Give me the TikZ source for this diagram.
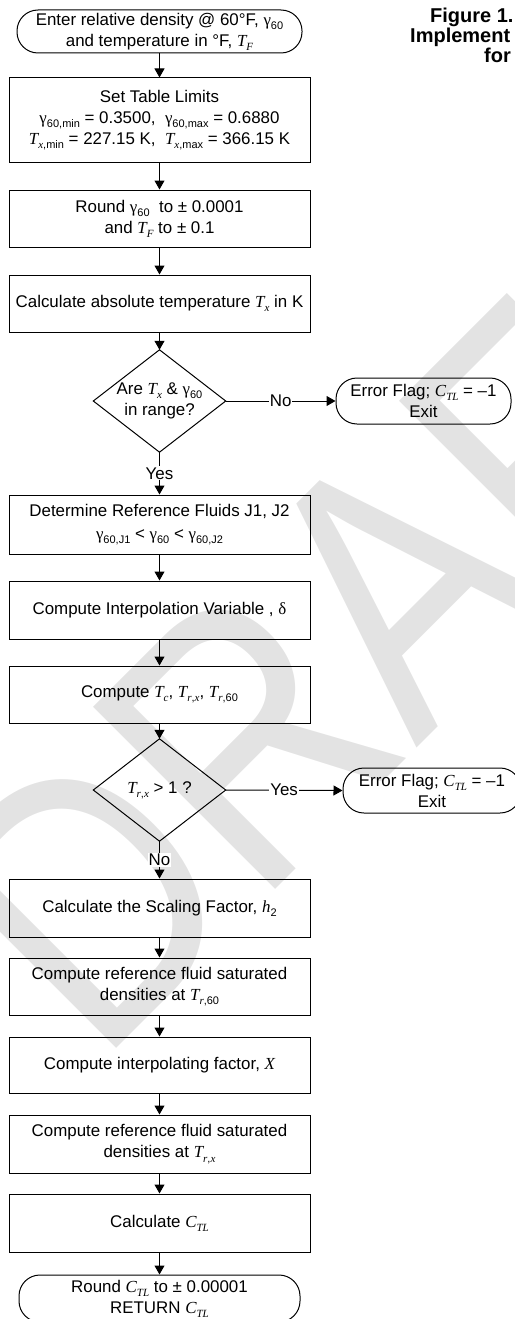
\documentclass[tikz,border=0pt]{standalone}
\usepackage{fontspec}
\setmainfont{Liberation Sans}
\newfontfamily\tms{Liberation Serif}
\usetikzlibrary{arrows.meta}

% italic serif symbol, lowered small index, Greek gamma
\newcommand\mi[1]{{\tms\itshape #1}}
\newcommand\lo[1]{\raisebox{-0.25em}{\fontsize{11}{11}\selectfont #1}}
\newcommand\gm{{\tms γ}}
\newcommand\ctl{\mi{C}\lo{\mi{TL}}}

\tikzset{
  every node/.style={font=\fontsize{16.9}{21}\selectfont},
  stepbox/.style={draw=black, line width=1pt, minimum width=301pt, align=center, inner sep=0pt},
  term/.style={draw=black, line width=1pt, rounded corners=21pt, align=center, inner sep=0pt},
  decide/.style={minimum width=132pt, minimum height=102pt, align=center, inner sep=0pt},
  outline/.style={draw=black, line width=1pt},
  link/.style={draw=black, line width=1pt, -{Triangle[length=9pt,width=10pt]}},
  lbl/.style={fill=white, inner sep=1pt},
  wmark/.style={text=black!11, inner sep=0pt, font=\fontsize{312}{312}\selectfont},
  heading/.style={inner sep=0pt, anchor=base west, font=\fontsize{20}{22}\selectfont\bfseries}
}

\begin{document}
\begin{tikzpicture}[x=1pt,y=-1pt]
\useasboundingbox (0,0) rectangle (514,1319);

% background watermark
\begin{scope}
  \clip (0,0) rectangle (514,1319);
  \node[wmark, rotate=45, anchor=base west] (wm) at (98,1067) {\scalebox{1}[1.2]{DRAFT}};
\end{scope}

% heading
\node[heading] (h1) at (430,23) {Figure 1.};
\node[heading] (h2) at (410,43) {Implement};
\node[heading] (h3) at (484,63) {for};

% main column
\node[term, minimum width=285pt, minimum height=43pt] (b1) at (159.5,31.5)
  {Enter relative density @ 60°F, \gm\lo{60}\\and temperature in °F, \mi{T}\lo{\mi{F}}};
\node[stepbox, minimum height=84pt] (b2) at (159.5,120)
  {Set Table Limits\\
   \gm\lo{60,min} = 0.3500,\ \ \gm\lo{60,max} = 0.6880\\
   \mi{T}\lo{\mi{x},min} = 227.15 K,\ \ \mi{T}\lo{\mi{x},max} = 366.15 K};
\node[stepbox, minimum height=57pt] (b3) at (159.5,218.5)
  {Round \gm\lo{60}\ \ to ± 0.0001\\and \mi{T}\lo{\mi{F}} to ± 0.1};
\node[stepbox, minimum height=57pt] (b4) at (159.5,303.5)
  {Calculate absolute temperature \mi{T}\lo{\mi{x}} in K};
\node[decide] (d1) at (159.5,401)
  {Are \mi{T}\lo{\mi{x}} \& \gm\lo{60}\\in range?};
\draw[outline] (d1.north) -- (d1.east) -- (d1.south) -- (d1.west) -- cycle;
\node[term, minimum width=175pt, minimum height=46pt] (e1) at (423.5,401)
  {Error Flag; \ctl{} = –1\\Exit};
\node[stepbox, minimum height=59pt] (b5) at (159.5,524.5)
  {Determine Reference Fluids J1, J2\\[2pt]
   \gm\lo{60,J1} < \gm\lo{60} < \gm\lo{60,J2}};
\node[stepbox, minimum height=58pt] (b6) at (159.5,610)
  {Compute Interpolation Variable , {\tms δ}};
\node[stepbox, minimum height=57pt] (b7) at (159.5,694.5)
  {Compute \mi{T}\lo{\mi{c}}, \mi{T}\lo{\mi{r},\mi{x}}, \mi{T}\lo{\mi{r},60}};
\node[decide] (d2) at (159.5,790)
  {\mi{T}\lo{\mi{r},\mi{x}} > 1 ?};
\draw[outline] (d2.north) -- (d2.east) -- (d2.south) -- (d2.west) -- cycle;
\node[term, minimum width=178pt, minimum height=45pt] (e2) at (432,790.5)
  {Error Flag; \ctl{} = –1\\Exit};
\node[stepbox, minimum height=58pt] (b8) at (159.5,908)
  {Calculate the Scaling Factor, \mi{h}\lo{2}};
\node[stepbox, minimum height=57pt] (b9) at (159.5,986.5)
  {Compute reference fluid saturated\\densities at \mi{T}\lo{\mi{r},60}};
\node[stepbox, minimum height=56pt] (b10) at (159.5,1065)
  {Compute interpolating factor, \mi{X}};
\node[stepbox, minimum height=58pt] (b11) at (159.5,1144)
  {Compute reference fluid saturated\\densities at \mi{T}\lo{\mi{r},\mi{x}}};
\node[stepbox, minimum height=58pt] (b12) at (159.5,1223)
  {Calculate \ctl};
\node[term, minimum width=281pt, minimum height=47pt] (b13) at (159.5,1298.5)
  {Round \ctl{} to ± 0.00001\\RETURN \ctl};

% connectors
\draw[link] (b1.south) -- (b2.north);
\draw[link] (b2.south) -- (b3.north);
\draw[link] (b3.south) -- (b4.north);
\draw[link] (b4.south) -- (d1.north);
\draw[link] (d1.east) -- node[lbl] {No} (e1.west);
\draw[link] (d1.south) -- node[lbl] {Yes} (b5.north);
\draw[link] (b5.south) -- (b6.north);
\draw[link] (b6.south) -- (b7.north);
\draw[link] (b7.south) -- (d2.north);
\draw[link] (d2.east) -- node[lbl] {Yes} (e2.west);
\draw[link] (d2.south) -- node[lbl] {No} (b8.north);
\draw[link] (b8.south) -- (b9.north);
\draw[link] (b9.south) -- (b10.north);
\draw[link] (b10.south) -- (b11.north);
\draw[link] (b11.south) -- (b12.north);
\draw[link] (b12.south) -- (b13.north);
\end{tikzpicture}
\end{document}
